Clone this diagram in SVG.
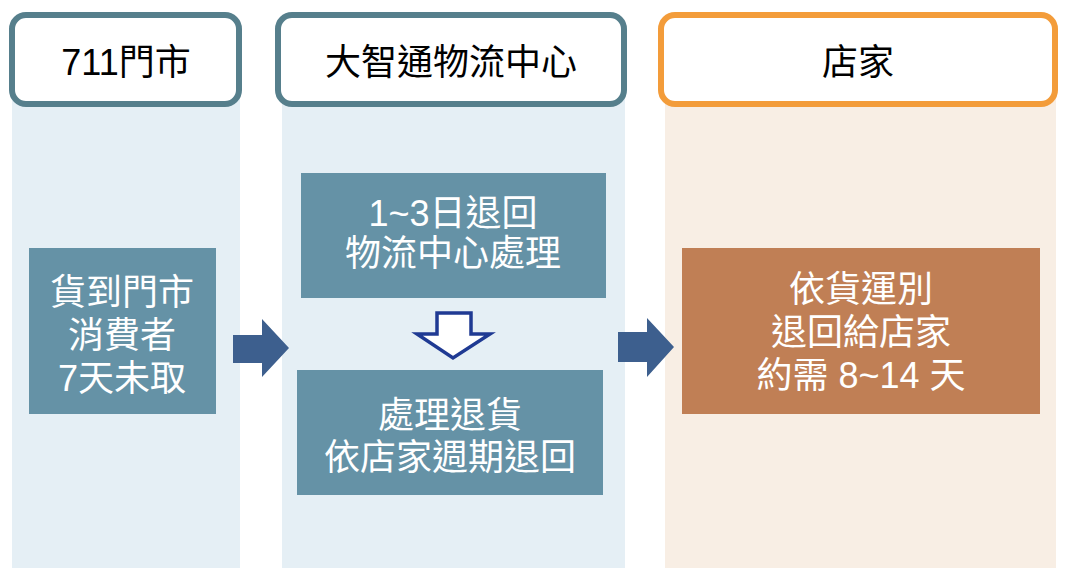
<svg xmlns="http://www.w3.org/2000/svg" width="1068" height="582" viewBox="0 0 1068 582">
<style>
text{font-family:"Liberation Sans","Noto Sans CJK TC","Noto Sans CJK SC",sans-serif;font-size:36px;text-anchor:middle}
.hd{fill:#000}
.wt{fill:#fff}
.colb{fill:#E5EFF5}
.colo{fill:#F8EEE4}
.hbox{fill:#fff;stroke:#567F8C;stroke-width:6}
.obox{fill:#fff;stroke:#F39C3A;stroke-width:6}
.bbox{fill:#6592A6}
.brbox{fill:#C07F55}
.arr{fill:#3D5F8E}
.harr{fill:#fff;stroke:#1F3A93;stroke-width:3.5;stroke-linejoin:miter}
</style>
<rect width="1068" height="582" fill="#fff"/>
<g id="col-711">
<rect class="colb" x="12" y="60" width="228" height="508"/>
<rect class="hbox" x="12" y="15" width="227" height="89" rx="14"/>
<text class="hd" x="126" y="75">711門市</text>
</g>
<g id="col-dc">
<rect class="colb" x="282" y="60" width="343" height="508"/>
<rect class="hbox" x="278" y="15" width="346" height="89" rx="14"/>
<text class="hd" x="451" y="75">大智通物流中心</text>
</g>
<g id="col-store">
<rect class="colo" x="665" y="60" width="391" height="508"/>
<rect class="obox" x="661" y="15" width="394" height="89" rx="14"/>
<text class="hd" x="858" y="75">店家</text>
</g>
<g id="node-uncollected">
<rect class="bbox" x="29" y="248" width="187" height="166"/>
<text class="wt" x="122" y="305">貨到門市</text>
<text class="wt" x="122" y="348">消費者</text>
<text class="wt" x="122" y="391">7天未取</text>
</g>
<g id="node-return-dc">
<rect class="bbox" x="301" y="173" width="305" height="125"/>
<text class="wt" x="453" y="226">1~3日退回</text>
<text class="wt" x="453" y="266">物流中心處理</text>
</g>
<g id="node-process">
<rect class="bbox" x="297" y="370" width="306" height="125"/>
<text class="wt" x="450" y="428">處理退貨</text>
<text class="wt" x="450" y="470">依店家週期退回</text>
</g>
<g id="node-return-store">
<rect class="brbox" x="682" y="248" width="358" height="166"/>
<text class="wt" x="861" y="302">依貨運別</text>
<text class="wt" x="861" y="345">退回給店家</text>
<text class="wt" x="861" y="388">約需 8~14 天</text>
</g>
<g id="connectors">
<polygon class="arr" points="233,335 262,335 262,319 289,348 262,377 262,363 233,363"/>
<polygon class="arr" points="618,332 647,332 647,318 674,347 647,377 647,362 618,362"/>
<polygon class="harr" points="437,313 471,313 471,334 490,334 453,358 417,334 437,334"/>
</g>
</svg>
